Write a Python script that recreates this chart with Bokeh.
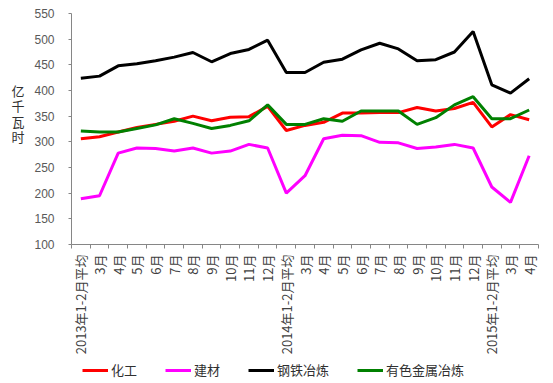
import math
from bokeh.plotting import figure
from bokeh.layouts import column
from bokeh.models import FixedTicker, Range1d, Legend, LegendItem
from bokeh.embed import file_html
from bokeh.resources import INLINE

categories = ["2013年1-2月平均", "3月", "4月", "5月", "6月", "7月", "8月", "9月", "10月", "11月", "12月",
              "2014年1-2月平均", "3月", "4月", "5月", "6月", "7月", "8月", "9月", "10月", "11月", "12月",
              "2015年1-2月平均", "3月", "4月"]
chemical = [306, 310, 319, 328, 334, 340, 350, 341, 348, 349, 369,
            322, 332, 338, 356, 356, 357, 357, 367, 360, 365, 377,
            329, 353, 343]
building = [189, 195, 278, 288, 287, 282, 288, 278, 282, 295, 288,
            200, 234, 306, 313, 312, 299, 298, 287, 290, 295, 288,
            212, 182, 273]
steel = [424, 428, 448, 452, 458, 465, 474, 456, 472, 480, 498,
         435, 435, 455, 461, 479, 492, 481, 458, 460, 475, 515,
         411, 395, 423]
nonferrous = [321, 319, 319, 326, 333, 345, 336, 326, 332, 341, 372,
              334, 334, 345, 340, 360, 360, 360, 334, 347, 372, 388,
              345, 345, 362]
series_names = ["化工", "建材", "钢铁冶炼", "有色金属冶炼"]
series_colors = ["#FF0000", "#FF00FF", "#000000", "#008000"]
y_ticks = [100, 150, 200, 250, 300, 350, 400, 450, 500, 550]

n = len(categories)
xs = [i + 0.5 for i in range(n)]
all_series = [chemical, building, steel, nonferrous]

p = figure(width=553, height=358, output_backend="svg", toolbar_location=None,
           x_range=Range1d(0, n), y_range=Range1d(100, 550),
           min_border_left=71, min_border_right=15, min_border_top=13, min_border_bottom=114)
p.grid.visible = False
p.outline_line_color = None

axis_grey = "#868686"

ya = p.yaxis[0]
ya.ticker = FixedTicker(ticks=y_ticks)
ya.major_tick_in = 0
ya.major_tick_out = 3
ya.minor_tick_line_color = None
ya.axis_line_color = axis_grey
ya.major_tick_line_color = axis_grey
ya.major_label_text_font = "Liberation Sans"
ya.major_label_text_font_size = "12px"
ya.major_label_text_color = "#595959"
ya.major_label_standoff = 14
ya.axis_label = "亿\n千\n瓦\n时\n \n "
ya.axis_label_text_font = "Noto Sans CJK SC"
ya.axis_label_text_font_size = "13px"
ya.axis_label_text_font_style = "normal"
ya.axis_label_text_color = "#303030"
ya.axis_label_text_line_height = 0.82
ya.axis_label_standoff = 7
if "axis_label_orientation" in ya.properties():
    ya.axis_label_orientation = "horizontal"

xa = p.xaxis[0]
xa.ticker = FixedTicker(ticks=xs, minor_ticks=list(range(n + 1)))
xa.major_tick_in = 0
xa.major_tick_out = 0
xa.minor_tick_in = 0
xa.minor_tick_out = 4
xa.minor_tick_line_color = axis_grey
xa.axis_line_color = axis_grey
xa.major_label_orientation = math.pi / 2
xa.major_label_overrides = {x: c for x, c in zip(xs, categories)}
xa.major_label_text_font = "Noto Sans CJK SC"
xa.major_label_text_font_size = "13px"
xa.major_label_text_color = "#404040"
xa.major_label_standoff = 6

for vals, col in zip(all_series, series_colors):
    p.line(xs, vals, line_color=col, line_width=3)

# legend strip below the chart (its lines lie outside its visible range)
lg = figure(width=553, height=25, output_backend="svg", toolbar_location=None,
            x_axis_type=None, y_axis_type=None, x_range=Range1d(0, 1), y_range=Range1d(0, 1),
            min_border=0)
lg.grid.visible = False
lg.outline_line_color = None
items = []
for name, vals, col in zip(series_names, all_series, series_colors):
    r = lg.line(xs, vals, line_color=col, line_width=3)
    items.append(LegendItem(label=name, renderers=[r]))
legend = Legend(items=items, orientation="horizontal", location=(11, 4),
                glyph_width=26, glyph_height=14, label_standoff=3, spacing=28,
                padding=0, margin=0, border_line_color=None, background_fill_alpha=0,
                label_text_font="Noto Sans CJK SC", label_text_font_size="13px",
                label_text_color="#303030", label_height=14)
lg.add_layout(legend, "center")

layout = column(p, lg, spacing=0)
open("out.html", "w").write(file_html(layout, INLINE))
